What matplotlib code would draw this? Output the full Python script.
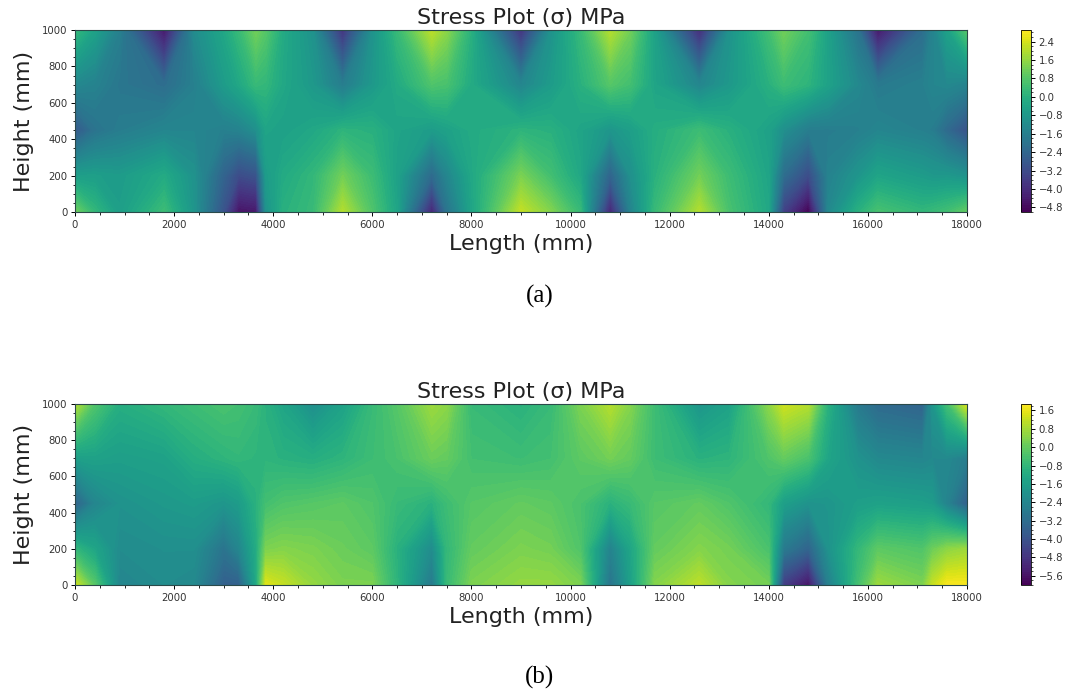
import numpy as np
import matplotlib
matplotlib.use("Agg")
import matplotlib.pyplot as plt
from matplotlib.ticker import AutoMinorLocator

length_mm = [0,400,900,1800,2400,3000,3300,3650,3850,4200,4800,5400,6000,6500,7200,7500,8000,9000,9600,10200,10800,11200,11700,12600,13200,14000,14300,14800,15200,15800,16200,17100,17300,17600,18000]
height_mm = [0,200,450,700,1000]

stress_a_h0 = [1.2,.2,-.6,.4,-.9,-3,-4.6,-4.5,-1,0,.3,2,.7,-.4,-4.2,-2,-.4,2.2,1.4,.3,-4.2,-1.5,.3,2,.6,-.3,-3.5,-5,-1.3,0,.6,.2,.3,.5,1]
stress_a_h200 = [-.6,-.6,-.7,-.2,-1,-2.5,-3.2,-3,-.7,-.2,.2,1.2,.4,-.5,-2.3,-1.4,-.3,1.3,.5,-.3,-2.5,-1.1,0,1.2,.4,-.4,-2.2,-3.2,-1.5,-.9,-.4,-.7,-.8,-.8,-1]
stress_a_h450 = [-2.8,-2,-1.7,-1.4,-1.4,-1.6,-1.5,-1.1,-.4,-.5,-.3,.1,0,-.4,-.7,-.5,-.2,.1,0,-.4,-.9,-.6,-.1,.4,0,-.5,-1.1,-1.7,-1.7,-1.6,-1.4,-1.6,-1.7,-2.3,-3]
stress_a_h700 = [-1.3,-1.5,-1.9,-2.2,-1.6,-.7,-.3,.3,.2,-.3,-.8,-1.7,-.8,-.2,.7,.6,-.2,-1.4,-.7,0,.8,.5,-.4,-1.4,-.8,0,.4,.1,-.5,-1.3,-1.8,-1.6,-1.4,-1.3,-1.5]
stress_a_h1000 = [.3,-.5,-1.6,-4.5,-1.2,-.3,.3,1.2,.8,-.2,-1,-3.8,-1,.3,2.1,1.5,0,-3.8,-1,.3,2,1.2,-.5,-4,-1,.5,1.2,.5,-.5,-2,-4.5,-2.2,-1.5,-.5,.8]

stress_b_h0 = [1.3,-.2,-2.4,-2.2,-2.3,-3.6,-3.6,-1.3,1.5,1.2,.6,.3,.3,-.9,-2.8,-.7,.3,.6,.6,.3,-3,-1.6,.4,1.1,.4,.2,-4.6,-5.6,-2.6,-.5,.7,.3,1.2,1.8,1.8]
stress_b_h200 = [-.8,-1.4,-2.2,-2.1,-2.1,-3,-2.4,-1.2,.3,.4,.3,.1,-.1,-1,-2.2,-.8,0,.3,.2,-.3,-2.5,-1.4,0,.4,.2,-.4,-2.8,-3.5,-2,-.8,-.1,-.3,.1,.5,.7]
stress_b_h450 = [-3.5,-2.4,-2,-1.8,-1.7,-1.9,-1.7,-1,-.5,-.3,-.2,-.1,-.3,-.7,-1,-.6,-.2,0,-.1,-.4,-1,-.7,-.2,0,-.3,-.8,-1.6,-2,-1.9,-1.6,-1.5,-1.6,-1.7,-2.5,-3.6]
stress_b_h700 = [-1.6,-1.5,-1.6,-1.5,-1.1,-.9,-.8,-.9,-.9,-1,-1.1,-.9,-.6,-.4,.1,0,-.5,-.6,-.5,-.1,.2,0,-.6,-1,-.9,-.3,0,-.4,-1.4,-2,-2.3,-2.4,-2.3,-2.3,-2.7]
stress_b_h1000 = [1,-.3,-1.1,-.8,-.6,-.4,-.5,-.7,-1,-1.4,-2.1,-1.5,-.7,-.2,.7,.5,-.7,-1,-.7,.3,1,.4,-.6,-1.9,-1.5,.5,1.3,1,-1,-2.8,-3.3,-3.5,-1.9,-.5,1.4]

title_text = "Stress Plot (σ) MPa"
xlabel_text = "Length (mm)"
ylabel_text = "Height (mm)"

W, H = 1068, 698


def box(left, top, right, bottom):
    return [left / W, 1 - bottom / H, (right - left) / W, (bottom - top) / H]


fig = plt.figure(figsize=(W / 100, H / 100), dpi=100)


def panel(rows, vmin, vmax, cticks, top, bottom, caption, cap_y):
    ax = fig.add_axes(box(75, top, 967, bottom))
    Z = np.clip(np.array(rows), vmin, vmax)
    levels = np.linspace(vmin, vmax, 84)
    cf = ax.contourf(length_mm, height_mm, Z, levels=levels, cmap="viridis")
    ax.set_xlim(0, 18000)
    ax.set_ylim(0, 1000)
    ax.set_xticks(np.arange(0, 18001, 2000))
    ax.set_yticks(np.arange(0, 1001, 200))
    ax.xaxis.set_minor_locator(AutoMinorLocator(4))
    ax.yaxis.set_minor_locator(AutoMinorLocator(4))
    ax.tick_params(axis="both", which="major", labelsize=7.3, length=3, width=0.7, pad=2.5, labelcolor="#333333")
    ax.tick_params(axis="both", which="minor", length=1.8, width=0.6)
    ax.set_title(title_text, fontsize=16, pad=4, color="#222222")
    ax.set_xlabel(xlabel_text, fontsize=16, labelpad=3, color="#222222")
    ax.set_ylabel(ylabel_text, fontsize=16, labelpad=6, color="#222222")
    for s in ax.spines.values():
        s.set_linewidth(0.8)
        s.set_color("#2a4a4a")
    cax = fig.add_axes(box(1021, top, 1031, bottom))
    cb = fig.colorbar(cf, cax=cax, ticks=cticks)
    cb.ax.yaxis.set_minor_locator(AutoMinorLocator(4))
    cb.ax.tick_params(which="major", labelsize=7.3, length=3, width=0.7, pad=2.5, labelcolor="#333333")
    cb.ax.tick_params(which="minor", length=1.5, width=0.5)
    cb.outline.set_linewidth(0.6)
    fig.text(540 / W, 1 - cap_y / H, caption, family="Liberation Serif", fontsize=18,
             ha="center", va="center", color="black")


panel([stress_a_h0, stress_a_h200, stress_a_h450, stress_a_h700, stress_a_h1000],
      -5.0, 2.9, np.arange(-4.8, 2.5, 0.8), 30, 212, "(a)", 296)
panel([stress_b_h0, stress_b_h200, stress_b_h450, stress_b_h700, stress_b_h1000],
      -6.0, 1.88, np.arange(-5.6, 1.7, 0.8), 404, 585, "(b)", 677)

fig.savefig("out.png", dpi=100)
